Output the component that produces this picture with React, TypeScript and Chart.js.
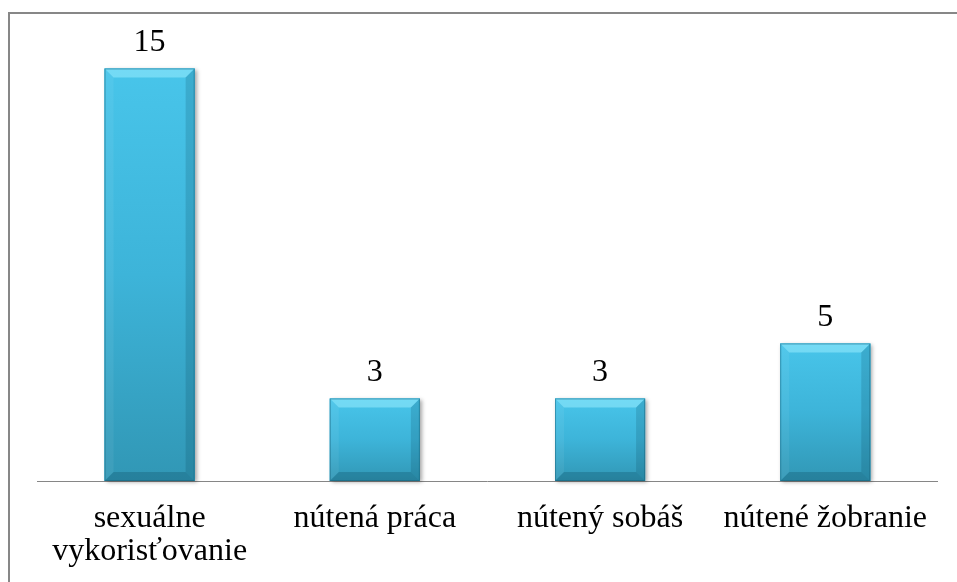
import React, { useEffect, useRef } from "react";
import { Chart, registerables } from "chart.js";

Chart.register(...registerables);

const categories: (string | string[])[] = [
  ["sexuálne", "vykorisťovanie"],
  "nútená práca",
  "nútený sobáš",
  "nútené žobranie",
];
const values: number[] = [15, 3, 3, 5];
const yMin = 0;
const yMax = 16;

const FONT = '"Liberation Serif", "Times New Roman", serif';

const bevelPlugin = {
  id: "bevel",
  beforeDatasetsDraw(chart: any) {
    const ctx = chart.ctx;
    const meta = chart.getDatasetMeta(0);
    ctx.save();
    meta.data.forEach((el: any) => {
      const { x, y, base, width } = el.getProps(["x", "y", "base", "width"], true);
      const l = x - width / 2;
      ctx.shadowColor = "rgba(0,0,0,0.35)";
      ctx.shadowBlur = 4;
      ctx.shadowOffsetX = 2;
      ctx.shadowOffsetY = 1;
      ctx.fillStyle = "#3aaed2";
      ctx.fillRect(l, y, width, base - y);
    });
    ctx.restore();
  },
  afterDatasetsDraw(chart: any) {
    const ctx = chart.ctx;
    const meta = chart.getDatasetMeta(0);
    ctx.save();
    meta.data.forEach((el: any, i: number) => {
      const { x, y, base, width } = el.getProps(["x", "y", "base", "width"], true);
      const l = x - width / 2;
      const r = x + width / 2;
      const h = base - y;
      const g = ctx.createLinearGradient(0, y, 0, base);
      g.addColorStop(0, "#48c5ea");
      g.addColorStop(0.5, "#3db4d9");
      g.addColorStop(1, "#3197b5");
      ctx.fillStyle = g;
      ctx.fillRect(l, y, width, h);
      const b = Math.min(9, h / 4);
      // top bevel
      ctx.fillStyle = "rgba(160,240,255,0.5)";
      ctx.beginPath();
      ctx.moveTo(l, y);
      ctx.lineTo(r, y);
      ctx.lineTo(r - b, y + b);
      ctx.lineTo(l + b, y + b);
      ctx.closePath();
      ctx.fill();
      // left bevel
      ctx.fillStyle = "rgba(255,255,255,0.06)";
      ctx.beginPath();
      ctx.moveTo(l, y);
      ctx.lineTo(l + b, y + b);
      ctx.lineTo(l + b, base - b);
      ctx.lineTo(l, base);
      ctx.closePath();
      ctx.fill();
      // right bevel
      ctx.fillStyle = "rgba(0,50,70,0.16)";
      ctx.beginPath();
      ctx.moveTo(r, y);
      ctx.lineTo(r - b, y + b);
      ctx.lineTo(r - b, base - b);
      ctx.lineTo(r, base);
      ctx.closePath();
      ctx.fill();
      // bottom bevel
      ctx.fillStyle = "rgba(0,50,70,0.22)";
      ctx.beginPath();
      ctx.moveTo(l, base);
      ctx.lineTo(r, base);
      ctx.lineTo(r - b, base - b);
      ctx.lineTo(l + b, base - b);
      ctx.closePath();
      ctx.fill();
      // edges
      ctx.strokeStyle = "rgba(20,90,115,0.45)";
      ctx.lineWidth = 1;
      ctx.strokeRect(l + 0.5, y + 0.5, width - 1, h - 1);
      // value label
      ctx.fillStyle = "#000";
      ctx.font = `32px ${FONT}`;
      ctx.textAlign = "center";
      ctx.textBaseline = "alphabetic";
      ctx.fillText(String(values[i]), x, y - 18);
    });
    ctx.restore();
  },
};

export default function App() {
  const ref = useRef<HTMLCanvasElement | null>(null);
  useEffect(() => {
    if (!ref.current) return;
    const chart = new Chart(ref.current, {
      type: "bar",
      data: {
        labels: categories,
        datasets: [
          {
            data: values,
            backgroundColor: "#3db3d8",
            borderWidth: 0,
            barPercentage: 0.4,
            categoryPercentage: 1,
          },
        ],
      },
      options: {
        animation: false,
        responsive: false,
        devicePixelRatio: 1,
        layout: { padding: { left: 27, right: 8, top: 27, bottom: 0 } },
        plugins: {
          legend: { display: false },
          tooltip: { enabled: false },
          title: { display: false },
        },
        scales: {
          x: {
            grid: { display: false, drawTicks: false },
            border: { display: true, color: "#868686", width: 1 },
            ticks: {
              padding: 21,
              color: "#000",
              maxRotation: 0,
              autoSkip: false,
              font: { family: FONT, size: 32, lineHeight: 1.03 },
            },
            afterFit(axis: any) {
              axis.height = 93;
            },
          },
          y: {
            display: false,
            min: yMin,
            max: yMax,
          },
        },
      },
      plugins: [bevelPlugin],
    });
    return () => chart.destroy();
  }, []);

  return (
    <div
      style={{
        position: "absolute",
        left: 8,
        top: 12,
        width: 947,
        height: 568,
        borderLeft: "2px solid #878787",
        borderTop: "2px solid #878787",
        background: "#fff",
      }}
    >
      <canvas ref={ref} width={939} height={560} style={{ display: "block" }} />
    </div>
  );
}
